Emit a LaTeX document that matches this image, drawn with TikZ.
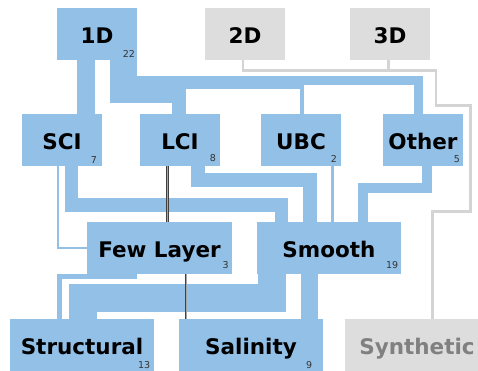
\documentclass[tikz,border=0pt]{standalone}
\usepackage{fontspec}
\setmainfont{DejaVu Sans}
\definecolor{flowblue}{RGB}{146,192,231}
\definecolor{boxgray}{RGB}{221,221,221}
\definecolor{linegray}{RGB}{212,212,212}
\definecolor{textgray}{RGB}{128,128,128}
\begin{document}
\begin{tikzpicture}[x=1pt,y=-1pt,
  box/.style={rectangle, fill=flowblue, minimum width=80pt, minimum height=52pt, inner sep=0pt,
    text height=18pt, text depth=0pt, font=\bfseries\fontsize{21.5}{22}\selectfont},
  wide/.style={box, minimum width=144.5pt},
  gbox/.style={box, fill=boxgray},
  cnt/.style={font=\fontsize{9.5}{9.5}\selectfont, text=black!80, inner sep=0pt, anchor=base east},
  flow/.style={draw=flowblue},
  thinflow/.style={draw=flowblue, line width=2.5pt},
  darkline/.style={draw=black!75, double=black!35, double distance=0.7pt, line width=0.8pt},
  gline/.style={draw=linegray, line width=2.8pt}]
\useasboundingbox (0,0) rectangle (478,370);
\clip (0,0) rectangle (478,370);
\fill[white] (0,0) rectangle (478,370);

% nodes
\node[box] (d1) at (97,34) {1D};
\node[gbox] (d2) at (245,34) {2D};
\node[gbox] (d3) at (390,34) {3D};
\node[box] (sci) at (62,140) {SCI};
\node[box] (lci) at (180,140) {LCI};
\node[box] (ubc) at (301,140) {UBC};
\node[box] (oth) at (423,140) {Other};
\node[wide] (few) at (159.5,248) {Few Layer};
\node[wide] (smo) at (329,248) {Smooth};
\node[wide] (str) at (82,345) {Structural};
\node[wide] (sal) at (251,345) {Salinity};
\node[wide, fill=boxgray, text=textgray] (syn) at (417,345) {Synthetic};

% counts
\node[cnt] (c1) at ([shift={(-2,-3)}]d1.south east) {22};
\node[cnt] (c2) at ([shift={(-5,-3)}]sci.south east) {7};
\node[cnt] (c3) at ([shift={(-4,-5)}]lci.south east) {8};
\node[cnt] (c4) at ([shift={(-4,-4)}]ubc.south east) {2};
\node[cnt] (c5) at ([shift={(-3,-4)}]oth.south east) {5};
\node[cnt] (c6) at ([shift={(-3,-6)}]few.south east) {3};
\node[cnt] (c7) at ([shift={(-3,-6)}]smo.south east) {19};
\node[cnt] (c8) at ([shift={(-4,-3)}]str.south east) {13};
\node[cnt] (c9) at ([shift={(-11,-3)}]sal.south east) {9};

% flows from 1D
\draw[flow, line width=18pt] ([xshift=-11pt]d1.south) -- ([xshift=24pt]sci.north);
\draw[flow, line width=14pt] ([xshift=20pt]d1.south) -- ++(0,36) -| ([xshift=-1pt]lci.north);
\draw[flow, line width=4pt] ([xshift=29pt]d1.south) -- ++(0,27) -| ([xshift=1pt]ubc.north);
\draw[flow, line width=9pt] ([xshift=35.5pt]d1.south) -- ++(0,20.5) -| ([xshift=-4.5pt]oth.north);

% flows into Smooth
\draw[flow, line width=13.5pt] ([xshift=9.5pt]sci.south) -- ++(0,39) -| ([xshift=-47.5pt]smo.north);
\draw[flow, line width=14pt] ([xshift=17.5pt]lci.south) -- ++(0,13.5) -| ([xshift=-19.5pt]smo.north);
\draw[flow, line width=10pt] ([xshift=4pt]oth.south) -- ++(0,22) -| ([xshift=34pt]smo.north);
\draw[flow, line width=3pt] ([xshift=31pt]ubc.south) -- ([xshift=3pt]smo.north);

% flows out of Smooth and Few Layer
\draw[flow, line width=28pt] ([xshift=-57pt]smo.south) -- ++(0,23.5) -| ([xshift=0.5pt]str.north);
\draw[flow, line width=17pt] ([xshift=-19.5pt]smo.south) -- ++(0,45);
\draw[flow, line width=5pt] ([xshift=-25pt]few.south) -- ++(0,2.5) -| ([xshift=-22.5pt]str.north);

% thin flows
\draw[thinflow] ([xshift=-4pt]sci.south) |- (few.west);
\draw[darkline] ([xshift=-12.5pt]lci.south) -- ([xshift=8pt]few.north);
\draw[darkline] ([xshift=26.5pt]few.south) -- ++(0,45);

% gray flows to Synthetic
\draw[gline] ([xshift=-2pt]d2.south) -- ++(0,10) -- ++(193,0) -- ++(0,35) -- ++(34.5,0) -- ++(0,106.5) -| ([xshift=15.5pt]syn.north);
\draw[gline] ([xshift=-1.5pt]d3.south) -- ++(0,10) -- ++(47.5,0) -- ++(0,35) -- ++(34.5,0) -- ++(0,106.5) -| ([xshift=15.5pt]syn.north);
\end{tikzpicture}
\end{document}
